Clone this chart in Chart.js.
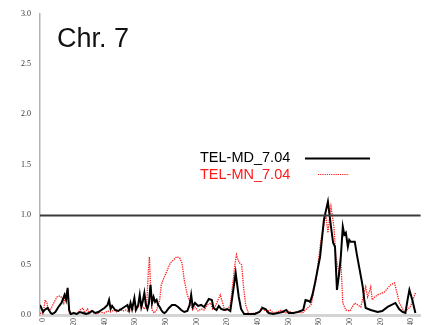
<!DOCTYPE html>
<html>
<head>
<meta charset="utf-8">
<script src="https://cdn.jsdelivr.net/npm/chart.js@4.4.1/dist/chart.umd.min.js"></script>
<style>
  html, body { margin: 0; padding: 0; background: #ffffff; overflow: hidden; }
  #c { display: block; }
</style>
</head>
<body>
<canvas id="c" width="424" height="325"></canvas>
<script>
// Chromosome 7 scan: two traces along marker position, with a 1.0 threshold.
const chromName = "Chr. 7";
const threshold = 1.0;
const xTicks = [0, 20, 40, 60, 80, 100, 120, 140, 160, 180, 200, 220, 240];
const xTickLabels = ["0", "20", "40", "60", "80", "100", "120", "140", "160", "180", "200", "220", "240"];
const yTicks = [0, 0.5, 1.0, 1.5, 2.0, 2.5, 3.0];

const mdLabel = "TEL-MD_7.04";
const mdPos = [-2, 0, 1, 3, 5, 6, 8, 10, 12, 14, 15, 16, 17, 18, 20, 22, 24, 26, 28, 30, 32, 34, 36, 38, 40, 42, 43, 44, 45, 47, 49, 51, 53, 55, 56, 57, 58, 59.5, 60.5, 62, 63, 64, 65, 66, 67, 68, 69, 70, 71, 72, 73, 74, 75, 76, 77, 78, 79, 80, 82, 84, 86, 88, 90, 92, 94, 95.5, 96.5, 97.5, 99, 101, 103, 105, 106.5, 108, 110, 111, 113, 114.5, 116, 118, 120, 122, 123.5, 125.5, 126.5, 127.5, 129, 131, 134, 138, 141, 143, 145, 147, 150, 153, 156, 158.5, 160, 163, 166, 169.5, 171, 173, 174, 175.5, 177.2, 180.5, 183, 185.6, 187.6, 189, 190.2, 191.5, 192.8, 194, 195.3, 196.3, 197.3, 198.6, 199.5, 200.5, 203.1, 204.5, 206.3, 207.5, 208.3, 209.3, 210.2, 213.5, 218, 221, 224.5, 229.6, 232, 234.2, 236.1, 237.5, 238.7, 240.6, 242.6];
const mdVal = [0.10, 0.03, 0.05, 0.07, 0.02, 0.01, 0.03, 0.08, 0.12, 0.20, 0.15, 0.27, 0.05, 0.01, 0.02, 0.01, 0.03, 0.02, 0.01, 0.02, 0.04, 0.02, 0.03, 0.05, 0.07, 0.10, 0.15, 0.06, 0.09, 0.05, 0.04, 0.06, 0.08, 0.10, 0.05, 0.12, 0.06, 0.17, 0.05, 0.10, 0.20, 0.08, 0.14, 0.22, 0.10, 0.06, 0.12, 0.30, 0.12, 0.18, 0.13, 0.15, 0.10, 0.08, 0.05, 0.03, 0.02, 0.03, 0.07, 0.10, 0.10, 0.08, 0.05, 0.03, 0.04, 0.10, 0.20, 0.08, 0.12, 0.09, 0.10, 0.08, 0.12, 0.16, 0.15, 0.07, 0.05, 0.09, 0.06, 0.05, 0.06, 0.04, 0.20, 0.42, 0.30, 0.18, 0.06, 0.01, 0.01, 0.01, 0.03, 0.07, 0.06, 0.02, 0.01, 0.02, 0.03, 0.05, 0.02, 0.02, 0.03, 0.05, 0.15, 0.14, 0.13, 0.20, 0.32, 0.58, 0.95, 1.13, 0.88, 0.72, 0.68, 0.25, 0.40, 0.58, 0.88, 0.80, 0.82, 0.68, 0.75, 0.73, 0.73, 0.60, 0.45, 0.35, 0.28, 0.15, 0.07, 0.05, 0.03, 0.04, 0.08, 0.12, 0.06, 0.03, 0.02, 0.15, 0.25, 0.15, 0.02];

const mnLabel = "TEL-MN_7.04";
const mnPos = [-2, 0, 1.3, 2.5, 3.5, 5, 7, 9, 11, 12.5, 13.5, 15, 16, 17, 18, 20, 22, 24, 26, 27, 29, 30, 32, 33, 35, 37, 40, 42, 44, 46, 48, 50, 52, 54, 56, 58, 60, 62, 64, 66, 67.5, 68.5, 69.3, 70, 71, 72.5, 74, 76, 77, 79, 81, 83, 85, 87, 89, 90.5, 92, 94, 96, 97.5, 99, 101, 103, 105, 107, 109.3, 110.5, 112, 114, 115.5, 117, 118.5, 120, 122, 123.5, 125, 126, 127, 128, 129.4, 130.5, 132, 134, 138, 141, 142.5, 144, 146, 148, 150, 153, 155, 156.5, 158, 160, 163, 166, 169, 171, 173, 174.6, 177.9, 181.1, 184.3, 185.6, 187.6, 189.5, 190.8, 192.8, 194, 195.3, 197.3, 200, 203.1, 207, 210.2, 211.5, 213.5, 214.5, 216.1, 218, 222.5, 226.4, 229, 232.2, 235.4, 239.3, 242.6];
const mnVal = [0.02, 0.01, 0.15, 0.12, 0.05, 0.06, 0.12, 0.18, 0.19, 0.17, 0.12, 0.22, 0.25, 0.02, 0.01, 0.02, 0.01, 0.05, 0.07, 0.02, 0.06, 0.02, 0.05, 0.02, 0.01, 0.03, 0.02, 0.04, 0.03, 0.05, 0.03, 0.06, 0.04, 0.05, 0.03, 0.06, 0.05, 0.08, 0.10, 0.06, 0.10, 0.40, 0.58, 0.30, 0.05, 0.02, 0.05, 0.15, 0.30, 0.38, 0.45, 0.52, 0.55, 0.58, 0.57, 0.52, 0.35, 0.20, 0.12, 0.05, 0.08, 0.04, 0.06, 0.05, 0.10, 0.12, 0.06, 0.08, 0.15, 0.20, 0.12, 0.04, 0.05, 0.10, 0.30, 0.50, 0.60, 0.55, 0.52, 0.50, 0.30, 0.10, 0.01, 0.02, 0.03, 0.08, 0.05, 0.03, 0.05, 0.02, 0.03, 0.05, 0.03, 0.02, 0.04, 0.02, 0.03, 0.02, 0.05, 0.08, 0.10, 0.35, 0.75, 1.00, 0.82, 1.08, 0.88, 0.58, 0.42, 0.55, 0.12, 0.05, 0.04, 0.12, 0.08, 0.28, 0.18, 0.28, 0.15, 0.18, 0.20, 0.23, 0.30, 0.32, 0.12, 0.03, 0.08, 0.22];

const toPoints = (pos, val) => pos.map((x, i) => ({ x: x, y: val[i] }));

// Chromosome name, threshold rule and an in-plot legend
const annotate = {
  id: 'annotate',
  afterDatasetsDraw(chart) {
    const { ctx, chartArea, scales } = chart;
    ctx.save();
    // threshold line
    const yT = Math.round(scales.y.getPixelForValue(threshold)) + 0.5;
    ctx.strokeStyle = '#3a3a3a';
    ctx.lineWidth = 2;
    ctx.beginPath();
    ctx.moveTo(chartArea.left, yT);
    ctx.lineTo(chartArea.right, yT);
    ctx.stroke();
    // title
    ctx.fillStyle = '#111111';
    ctx.font = '27px "Liberation Sans", Arial, sans-serif';
    ctx.textBaseline = 'alphabetic';
    ctx.fillText(chromName, 57, 47);
    // legend
    const ds = chart.data.datasets;
    ctx.font = '14.5px "Liberation Sans", Arial, sans-serif';
    ctx.fillStyle = ds[0].borderColor;
    ctx.fillText(ds[0].label, 200, 162);
    ctx.fillStyle = ds[1].borderColor;
    ctx.fillText(ds[1].label, 200, 179);
    ctx.strokeStyle = ds[0].borderColor;
    ctx.lineWidth = 2;
    ctx.setLineDash([]);
    ctx.beginPath();
    ctx.moveTo(305, 158.5);
    ctx.lineTo(370, 158.5);
    ctx.stroke();
    ctx.strokeStyle = ds[1].borderColor;
    ctx.lineWidth = 1.2;
    ctx.setLineDash([1.2, 1]);
    ctx.beginPath();
    ctx.moveTo(318, 174.5);
    ctx.lineTo(349, 174.5);
    ctx.stroke();
    ctx.restore();
  }
};

new Chart(document.getElementById('c'), {
  type: 'line',
  data: {
    datasets: [
      {
        label: mdLabel,
        data: toPoints(mdPos, mdVal),
        borderColor: '#000000',
        borderWidth: 2,
        pointRadius: 0,
        tension: 0,
        order: 1
      },
      {
        label: mnLabel,
        data: toPoints(mnPos, mnVal),
        borderColor: '#ff1a1a',
        borderWidth: 1.3,
        borderDash: [1.3, 1],
        pointRadius: 0,
        tension: 0,
        order: 2
      }
    ]
  },
  options: {
    responsive: false,
    maintainAspectRatio: false,
    animation: false,
    devicePixelRatio: 1,
    layout: { padding: { top: 14, right: 0, left: 0, bottom: 0 } },
    plugins: { legend: { display: false }, tooltip: { enabled: false }, title: { display: false } },
    scales: {
      x: {
        type: 'linear',
        min: -2,
        max: 246,
        afterBuildTicks(scale) { scale.ticks = xTicks.map(v => ({ value: v })); },
        afterFit(scale) { scale.height = 10; scale.paddingTop = 0; scale.paddingBottom = 0; },
        grid: { display: false, drawTicks: false },
        border: { display: true, color: '#d4d4d4', width: 3 },
        ticks: {
          autoSkip: false,
          maxRotation: 90,
          minRotation: 90,
          padding: 3,
          color: '#444444',
          font: { family: '"Liberation Serif", serif', size: 8 },
          callback: (v) => { const i = xTicks.indexOf(v); return i >= 0 ? xTickLabels[i] : ''; }
        }
      },
      y: {
        min: 0,
        max: 3,
        afterBuildTicks(scale) { scale.ticks = yTicks.map(v => ({ value: v })); },
        afterFit(scale) { scale.width = 40; scale.paddingTop = 0; scale.paddingBottom = 0; },
        grid: { display: false, drawTicks: false },
        border: { display: true, color: '#b4b4b4', width: 1.5 },
        ticks: {
          padding: 9,
          color: '#333333',
          font: { family: '"Liberation Serif", serif', size: 8 },
          callback: (v) => Number(v).toFixed(1)
        }
      }
    }
  },
  plugins: [annotate]
});
</script>
</body>
</html>
